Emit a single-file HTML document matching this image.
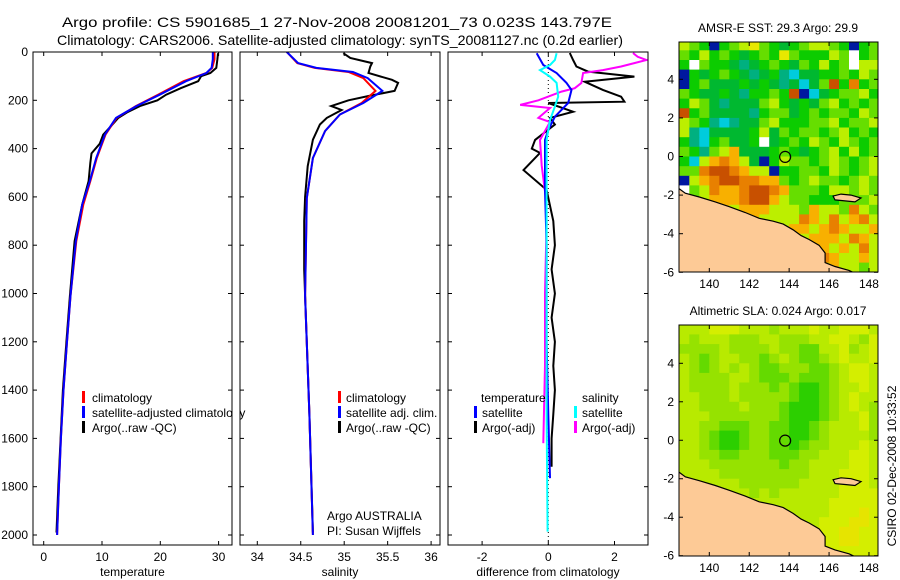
<!DOCTYPE html>
<html><head><meta charset="utf-8"><style>
html,body{margin:0;padding:0;background:#fff;}
svg{display:block;font-family:"Liberation Sans",sans-serif;}
</style></head><body>
<svg id="fig" width="900" height="580" viewBox="0 0 900 580" xmlns="http://www.w3.org/2000/svg">
<defs>
<clipPath id="c1"><rect x="33" y="52" width="199" height="493"/></clipPath>
<clipPath id="c2"><rect x="240" y="52" width="200" height="493"/></clipPath>
<clipPath id="c3"><rect x="448" y="52" width="200" height="493"/></clipPath>
<clipPath id="cm1"><rect x="679" y="42" width="199" height="230"/></clipPath>
<clipPath id="cm2"><rect x="679" y="325" width="199" height="231"/></clipPath>
</defs>
<text x="337" y="27" font-size="14" text-anchor="middle" textLength="550" lengthAdjust="spacingAndGlyphs">Argo profile: CS 5901685_1 27-Nov-2008 20081201_73 0.023S 143.797E</text>
<text x="340" y="45" font-size="14" text-anchor="middle" textLength="566" lengthAdjust="spacingAndGlyphs">Climatology: CARS2006. Satellite-adjusted climatology: synTS_20081127.nc (0.2d earlier)</text>
<g id="root"></g>
</svg>
<script>
// ---------- data ----------
const depthTicks = [0,200,400,600,800,1000,1200,1400,1600,1800,2000];
const tempTicks = [0,10,20,30];
const salTicks = [34,34.5,35,35.5,36];
const salTickLabels = ["34","34.5","35","35.5","36"];
const diffTicks = [-2,0,2];

const depthT = [0,30,66,87,121,177,224,273,342,439,535,632,783,1010,1200,1400,1600,1800,2000];
const tempClim = [29.3,29.3,28.9,27.9,24.0,19.6,15.8,12.5,10.6,9.1,8.0,6.8,5.6,4.6,4.0,3.4,2.95,2.6,2.3];
const tempSat = [29.0,29.0,28.8,27.9,24.4,19.9,15.9,12.4,10.5,9.0,7.9,6.6,5.5,4.6,4.0,3.4,2.95,2.6,2.3];
const depthArgoT = [5,30,66,87,100,121,150,177,200,224,250,273,300,342,380,420,460,535,632,783,1010,1200,1400,1600,1800,1990];
const tempArgo = [29.9,29.8,29.6,28.6,27.0,26.5,23.5,21.0,19.5,16.5,14.3,12.8,11.8,10.2,9.6,8.2,8.0,7.7,6.6,5.3,4.5,3.9,3.3,2.9,2.5,2.2];

const depthS = [0,46,66,83,108,161,211,259,327,439,605,1010,1500,2000];
const salClim = [34.34,34.46,34.66,35.05,35.22,35.36,35.2,34.95,34.78,34.64,34.57,34.55,34.6,34.64];
const salSat = [34.34,34.47,34.68,35.1,35.27,35.44,35.22,34.95,34.78,34.64,34.57,34.55,34.6,34.64];
const depthArgoS = [5,25,46,60,87,115,128,161,182,200,224,240,273,300,363,473,600,700,900,1010,1500,1990];
const salArgo = [34.99,35.07,35.32,35.3,35.28,35.55,35.62,35.58,35.28,35.05,34.85,34.97,34.8,34.72,34.64,34.58,34.55,34.54,34.54,34.55,34.6,34.64];

const depthDTs = [5,54,87,128,157,211,268,323,364,571,800,1200,1500,1765];
const diffTsat = [-0.35,-0.15,0.25,0.55,0.7,0.6,0.2,0.0,-0.1,-0.1,-0.05,-0.05,0.0,0.05];
const depthDSs = [5,33,54,75,102,128,185,226,282,364,600,1000,1500,1986];
const diffSsat = [0.25,0.2,0.05,-0.25,0.05,0.25,0.3,0.2,0.05,-0.05,-0.05,-0.05,-0.05,-0.02];
const depthDSa = [4,20,33,60,75,87,128,150,164,200,219,232,273,290,364,470,600,708,1000,1300,1620];
const diffSargo = [2.56,2.7,2.97,2.2,1.65,1.05,1.0,0.8,0.4,-0.3,-0.85,0.05,-0.3,0.05,-0.25,-0.2,-0.08,-0.05,-0.1,-0.1,-0.15];
const depthDTa = [4,33,60,81,102,123,157,185,206,211,247,273,300,364,400,418,489,571,700,800,900,1000,1100,1200,1300,1400,1500,1600,1717];
const diffTargo = [0.65,0.75,0.85,1.2,2.6,1.1,1.65,2.2,2.3,0.0,0.75,0.05,0.2,-0.4,-0.5,-0.25,-0.75,-0.05,0.15,0.2,0.1,0.2,0.1,0.2,0.15,0.2,0.15,0.1,0.1];

const lonTicks = [140,142,144,146,148];
const latTicks = [4,2,0,-2,-4,-6];
const sstGrid = [
"ylgbglyYlgGglyylgbgl","lgyglgGglgYlgggylwgl","gwlggGtGglgGlgyglwyy","bgGglgGtGgtcGGgglgyl",
"bglGGGgGgGtGcGlrgOgl","lgGGgGtgglgrbcGgllyg","gylGtGGGlygGgGlyglgl","rglGGGGtgllGglgllgyl",
"ylgtctGGlygggllyglly","ytcGGGGgyGlgllglyglg","gtcglGGgwGglgylgylgl","lgtlyoGGGglgGglygygl",
"gcyoOoyGbgyllglylgly","llOrrOoyybggllgylgly","byoOrrOOoolglyllglyl","wlyOooOrrOolllgyylyl",
"ylyoooOrroyllgggllly","lyyyoyoooyyyloyylOyl","yyylyyyoyyyyOoyOyoOy","yyyyyYyyOyyooyoOoyyo",
"yyyyyyyoYyooyoooyOoy","yyylyyyyyyoOyooyoyOy","yyyyyoyyyyoyooOoyyoy","yyyyyyyyyyyyoyyoyyly"];
const slaGrid = [
"bbbaaabbbcbbbabbaaab","bcbbbcccbbcccbbaabca","ccccbccccbccddbbacba","bcdcbbccdcbcddcbabba",
"bcdcbcbcddcccddcbaab","bccccbbcdddcdddcbaab","bccccbcccdcdeedcbbab","bbcccbcccccdeedcbabb",
"bbccccbcccdeeedcbabc","bbbcccccccdeeedcbbac","bbccdddccddeedcbbbac","bbcdeedccddeedcbbbbc",
"bbcdeedccddedccbbbab","bbccddcccdddccbbbaab","bbbcccccccdccbbbbaab","bbbbcccccccccbbbaaab",
"bbbbbbccccccbbbbaaab","abbbbbbcbcbbbbbbaaaa","aabbbbbbbbbbbbbaaaaa","aaaabbbbbbbbbbbaaaYa",
"aaaaaabbbbbbbbaaaYYa","aaaaaaabbbbbbaaaYYaa","aaaaaaaabbbbbaaaYYaa","aaaaaaaaabbbaaaaaaaa"];
const coastLon = [138.4,138.8,139.5,140.3,141,141.8,142.5,143.2,143.7,144.2,144.6,145,145.5,145.8,145.8,146.3,147,147.4,138.4];
const coastLat = [-1.6,-1.9,-2.1,-2.35,-2.6,-2.9,-3.2,-3.35,-3.5,-3.8,-4.1,-4.3,-4.6,-5.0,-5.5,-5.7,-5.9,-6.1,-6.1];
const islandLon = [146.2,146.6,147.1,147.6,147.3,146.8,146.3];
const islandLat = [-2.05,-1.95,-2.0,-2.15,-2.35,-2.3,-2.25];
const argoLon = 143.8, argoLat = -0.02;

// ---------- helpers ----------
const NS = "http://www.w3.org/2000/svg";
const root = document.getElementById('root');
function mk(tag, attrs, parent){ const e=document.createElementNS(NS,tag); for(const k in attrs) e.setAttribute(k,attrs[k]); (parent||root).appendChild(e); return e; }
const Y0=52, YS=0.2415;
const yD = d => Y0 + d*YS;
const xT = v => 43.7 + v*5.83;
const xS = v => 257.3 + (v-34)*86.9;
const xD = v => 548.3 + v*33.1;
const lonX = l => 709.3 + (l-140)*19.96;
const latY1 = l => 79.3 + (4-l)*19.3;
const latY2 = l => 363.3 + (4-l)*19.24;

function frame(x,y,w,h,name){
  const r=mk('rect',{x:x,y:y,width:w,height:h,fill:'none',stroke:'#000','stroke-width':1});
  
  
}
function line(xs, ys, fx, color, clip, name){
  const pts = xs.map((v,i)=>fx(v).toFixed(1)+','+yD(ys[i]).toFixed(1)).join(' ');
  const p=mk('polyline',{points:pts,fill:'none',stroke:color,'stroke-width':2,'clip-path':'url(#'+clip+')'});
  
  
}
function txt(x,y,s,opts,name){
  const t=mk('text',Object.assign({x:x,y:y,'font-size':12},opts||{}));
  t.textContent=s;
  
  
  return t;
}
function bar(x,y,color,name){
  const r=mk('rect',{x:x,y:y,width:3,height:12,fill:color});
  
  
}

// ---------- profile panels ----------
const panels=[
 {x:33,w:199,fx:xT,ticks:tempTicks,labels:tempTicks.map(String),clip:'c1',label:'temperature'},
 {x:240,w:200,fx:xS,ticks:salTicks,labels:salTickLabels,clip:'c2',label:'salinity'},
 {x:448,w:200,fx:xD,ticks:diffTicks,labels:diffTicks.map(String),clip:'c3',label:'difference from climatology'}];
panels.forEach(p=>{
  const bg=mk('rect',{x:p.x,y:52,width:p.w,height:493,fill:'#fff'});
  
  
});
const zl=mk('line',{x1:xD(0),y1:52,x2:xD(0),y2:545,stroke:'#000','stroke-width':1,'stroke-dasharray':'1,3'});



line(tempArgo, depthArgoT, xT, '#000', 'c1', 'temperature-argo-line');
line(tempClim, depthT, xT, '#f00', 'c1', 'temperature-climatology-line');
line(tempSat, depthT, xT, '#00f', 'c1', 'temperature-satellite-line');
line(salArgo, depthArgoS, xS, '#000', 'c2', 'salinity-argo-line');
line(salClim, depthS, xS, '#f00', 'c2', 'salinity-climatology-line');
line(salSat, depthS, xS, '#00f', 'c2', 'salinity-satellite-line');
line(diffTargo, depthDTa, xD, '#000', 'c3', 'diff-temperature-argo-line');
line(diffSargo, depthDSa, xD, '#f0f', 'c3', 'diff-salinity-argo-line');
line(diffTsat, depthDTs, xD, '#00f', 'c3', 'diff-temperature-satellite-line');
line(diffSsat, depthDSs, xD, '#0ff', 'c3', 'diff-salinity-satellite-line');

panels.forEach(p=>{
  frame(p.x,52,p.w,493,'profile-panel-frame');
  p.ticks.forEach((v,i)=>{
    const x=p.fx(v);
    const t1=mk('line',{x1:x,y1:52,x2:x,y2:56,stroke:'#000'});
    
    
    const t2=mk('line',{x1:x,y1:545,x2:x,y2:541,stroke:'#000'});
    
    
    txt(x,561,p.labels[i],{'text-anchor':'middle'},'x-tick-label');
  });
  depthTicks.forEach(d=>{
    const y=yD(d);
    const a=mk('line',{x1:p.x,y1:y,x2:p.x+4,y2:y,stroke:'#000'});
    
    
    const b=mk('line',{x1:p.x+p.w,y1:y,x2:p.x+p.w-4,y2:y,stroke:'#000'});
    
    
  });
  txt(p.x+p.w/2,576,p.label,{'text-anchor':'middle'},'x-axis-title');
});
depthTicks.forEach(d=>{ txt(28,yD(d)+4,String(d),{'text-anchor':'end'},'depth-tick-label'); });

// legends
bar(82,391,'#f00','legend-climatology-swatch'); txt(92,402,'climatology',{},'legend-climatology');
bar(82,406,'#00f','legend-satellite-swatch'); txt(92,417,'satellite-adjusted climatology',{},'legend-satellite-adjusted');
bar(82,421,'#000','legend-argo-swatch'); txt(92,432,'Argo(..raw -QC)',{},'legend-argo');
const cov=mk('rect',{x:233,y:380,width:6.5,height:60,fill:'#fff'});


frame(240,52,200,493,'salinity-panel-frame');
bar(338,391,'#f00','legend-sal-climatology-swatch'); txt(346,402,'climatology',{},'legend-sal-climatology');
bar(338,406,'#00f','legend-sal-satellite-swatch'); txt(346,417,'satellite adj. clim.',{},'legend-sal-satellite');
bar(338,421,'#000','legend-sal-argo-swatch'); txt(346,432,'Argo(..raw -QC)',{},'legend-sal-argo');
txt(327,520,'Argo AUSTRALIA',{},'float-owner-label');
txt(327,535,'PI: Susan Wijffels',{},'principal-investigator-label');
txt(481,402,'temperature',{},'legend-temperature-header');
bar(474,406,'#00f','legend-diff-t-sat-swatch'); txt(482,417,'satellite',{},'legend-diff-t-sat');
bar(474,421,'#000','legend-diff-t-argo-swatch'); txt(482,432,'Argo(-adj)',{},'legend-diff-t-argo');
txt(582,402,'salinity',{},'legend-salinity-header');
bar(574,406,'#0ff','legend-diff-s-sat-swatch'); txt(582,417,'satellite',{},'legend-diff-s-sat');
bar(574,421,'#f0f','legend-diff-s-argo-swatch'); txt(582,432,'Argo(-adj)',{},'legend-diff-s-argo');

// ---------- maps ----------
const sstColors={g:'#0ccc00',G:'#00b830',t:'#00b080',l:'#66de00',y:'#bcef00',Y:'#e8e800',o:'#f8b000',O:'#e88000',r:'#c85000',c:'#00ccdd',b:'#0018a0',w:'#ffffff'};
const slaColors={a:'#d4ee00',b:'#b8ea00',c:'#96e200',d:'#64da00',e:'#2ccf00',Y:'#e6e400'};
function drawMap(grid, colors, latY, clip, top, bottom, title, name){
  const g=mk('g',{'clip-path':'url(#'+clip+')'});
  
  
  grid.forEach((row,ri)=>{
    const lat=6-ri*0.5;
    for(let ci=0;ci<row.length;ci++){
      const lon=138.5+ci*0.5;
      const x=lonX(lon), y=latY(lat);
      const c=mk('rect',{x:x.toFixed(1),y:y.toFixed(1),width:(lonX(lon+0.5)-x+0.5).toFixed(1),height:(latY(lat-0.5)-y+0.5).toFixed(1),fill:colors[row[ci]]},g);
      
      
    }
  });
  const land=mk('polygon',{points:coastLon.map((l,i)=>lonX(l).toFixed(1)+','+latY(coastLat[i]).toFixed(1)).join(' '),fill:'#fdca96',stroke:'#000','stroke-width':1.2},g);
  
  
  const isl=mk('polygon',{points:islandLon.map((l,i)=>lonX(l).toFixed(1)+','+latY(islandLat[i]).toFixed(1)).join(' '),fill:'#fdca96',stroke:'#000','stroke-width':1.2},g);
  
  
  const circ=mk('circle',{cx:lonX(argoLon),cy:latY(argoLat),r:5.5,fill:'none',stroke:'#000','stroke-width':1.2},g);
  
  
  frame(679,top,199,bottom-top,'map-frame');
  lonTicks.forEach(l=>{
    const x=lonX(l);
    const a=mk('line',{x1:x,y1:top,x2:x,y2:top+4,stroke:'#000'});
    
    
    const b=mk('line',{x1:x,y1:bottom,x2:x,y2:bottom-4,stroke:'#000'});
    
    
    txt(x,bottom+16,String(l),{'text-anchor':'middle'},'longitude-tick-label');
  });
  latTicks.forEach(l=>{
    const y=latY(l);
    const a=mk('line',{x1:679,y1:y,x2:683,y2:y,stroke:'#000'});
    
    
    const b=mk('line',{x1:878,y1:y,x2:874,y2:y,stroke:'#000'});
    
    
    txt(674,y+4,String(l),{'text-anchor':'end'},'latitude-tick-label');
  });
  txt(778,top-10,title,{'text-anchor':'middle'},'map-title');
}
drawMap(sstGrid,sstColors,latY1,'cm1',42,272,'AMSR-E SST: 29.3 Argo: 29.9','sst-map');
drawMap(slaGrid,slaColors,latY2,'cm2',325,556,'Altimetric SLA: 0.024 Argo: 0.017','sla-map');
txt(0,0,'CSIRO 02-Dec-2008 10:33:52',{'text-anchor':'middle',transform:'translate(896,466) rotate(-90)'},'timestamp-label');
</script>
</body></html>
